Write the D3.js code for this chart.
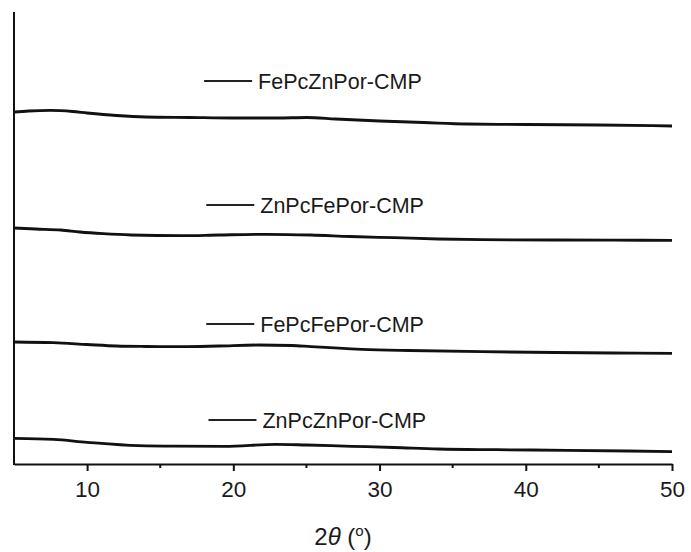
<!DOCTYPE html>
<html>
<head>
<meta charset="utf-8">
<script src="https://cdn.jsdelivr.net/npm/d3@7"></script>
<style>
  html, body { margin: 0; padding: 0; background: #fff; }
  svg text { font-family: "Liberation Sans", Arial, Helvetica, sans-serif; fill: #1a1a1a; }
</style>
</head>
<body>
<div id="chart"></div>
<script>
// XRD patterns, stacked (intensity in a.u. incl. vertical offset)
const seriesNames = ['FePcZnPor-CMP', 'ZnPcFePor-CMP', 'FePcFePor-CMP', 'ZnPcZnPor-CMP'];

const fePcZnPor = [[5,352],[6,353],[7.5,353.6],[9,352.5],[10,351],[12,348.5],[14,347],[17,346.5],[20,346],[23,346],[25,346.5],[27,345],[30,343],[33,341.5],[36,340],[40,339.5],[45,339],[50,338]];
const znPcFePor = [[5,236],[6.5,235],[8.2,234],[9.5,232],[11.1,230.3],[13,229],[16.5,228.3],[19,229],[22.3,229.7],[25.3,229],[28,227.5],[31,226.3],[34,225],[37,224.3],[42,224],[46,223.8],[50,223.7]];
const fePcFePor = [[5,122],[7.7,121.3],[10,119.5],[12,118],[14,117.5],[16.5,117.3],[19,118],[21.7,119],[24,118.5],[25.3,117.3],[28.8,114.7],[32,113.5],[37,112.3],[42,111.5],[46,111],[50,110.7]];
const znPcZnPor = [[5,25.7],[7.7,24.7],[10,21.7],[13.5,18.3],[16,17.8],[19.4,17.7],[22.9,19.7],[25,19],[28.1,17.7],[31,16.5],[34,15],[38,14.3],[42.8,13.7],[47,13],[50,12.3]];

const seriesData = [fePcZnPor, znPcFePor, fePcFePor, znPcZnPor];

const xMajorTicks = [10, 20, 30, 40, 50];
const xMinorTicks = [15, 25, 35, 45];

// label anchor (2θ, intensity) for each series
const labelX = [18.0, 18.15, 18.15, 18.3];
const labelY = [383, 259, 140, 44];

const width = 691, height = 552;
const margin = { top: 12, right: 19, bottom: 88, left: 14 };

const svg = d3.select('#chart').append('svg')
  .attr('width', width)
  .attr('height', height);

const x = d3.scaleLinear().domain([5, 50]).range([margin.left, width - margin.right]);
const y = d3.scaleLinear().domain([0, 452]).range([height - margin.bottom, margin.top]);

const line = d3.line()
  .x(d => x(d[0]))
  .y(d => y(d[1]))
  .curve(d3.curveMonotoneX);

// traces
svg.append('g')
  .selectAll('path')
  .data(seriesData)
  .join('path')
    .attr('d', line)
    .attr('fill', 'none')
    .attr('stroke', '#111')
    .attr('stroke-width', 2.8)
    .attr('stroke-linejoin', 'round');

// labels
const lab = svg.append('g')
  .selectAll('g')
  .data(seriesNames)
  .join('g')
    .attr('transform', (d, i) => `translate(${x(labelX[i])},${y(labelY[i])})`);

lab.append('line')
  .attr('x1', 0).attr('x2', 48)
  .attr('stroke', '#222')
  .attr('stroke-width', 2);

lab.append('text')
  .attr('x', 54)
  .attr('y', 7.5)
  .style('font-size', '21.5px')
  .text(d => d);

// x axis
const xAxis = svg.append('g')
  .attr('transform', `translate(0,${height - margin.bottom})`)
  .call(d3.axisBottom(x).tickValues(xMajorTicks).tickSize(7).tickPadding(10).tickSizeOuter(0));

xAxis.select('.domain').attr('stroke', '#111').attr('stroke-width', 2);
xAxis.selectAll('.tick line').attr('stroke', '#111').attr('stroke-width', 2);
xAxis.selectAll('.tick text')
  .style('font-size', '22.5px')
  .attr('fill', '#1a1a1a');

xAxis.selectAll('.minor')
  .data(xMinorTicks)
  .join('line')
    .attr('class', 'minor')
    .attr('x1', d => x(d)).attr('x2', d => x(d))
    .attr('y1', 0).attr('y2', 4)
    .attr('stroke', '#111')
    .attr('stroke-width', 2);

// y axis (no ticks)
svg.append('line')
  .attr('x1', x(5)).attr('x2', x(5))
  .attr('y1', y(452)).attr('y2', y(0) + 1)
  .attr('stroke', '#111')
  .attr('stroke-width', 2);

// axis title
const title = svg.append('text')
  .attr('x', (x(5) + x(50)) / 2)
  .attr('y', 545)
  .attr('text-anchor', 'middle')
  .style('font-size', '24px');
title.append('tspan').text('2');
title.append('tspan').style('font-style', 'italic').text('θ');
title.append('tspan').text(' (');
title.append('tspan').attr('dy', -9).style('font-size', '15px').text('o');
title.append('tspan').attr('dy', 9).text(')');
</script>
</body>
</html>
